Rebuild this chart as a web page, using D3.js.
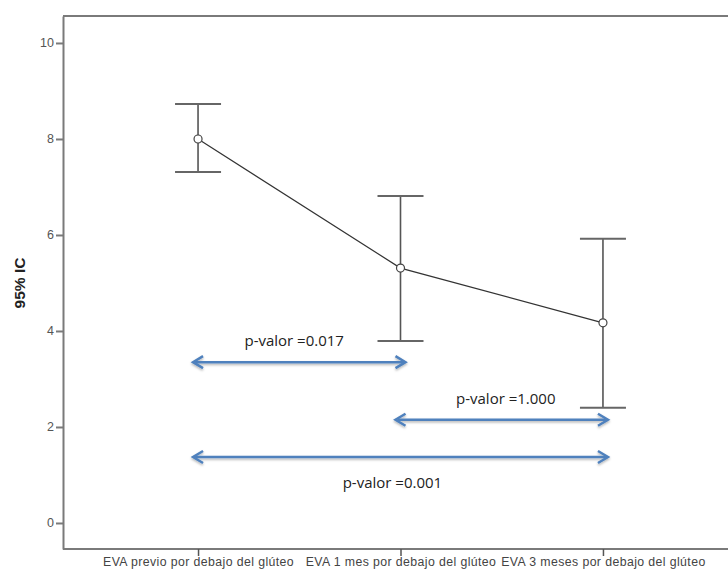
<!DOCTYPE html>
<html><head><meta charset="utf-8">
<script src="https://cdn.jsdelivr.net/npm/d3@7"></script>
<style>body{margin:0;background:#fff}svg{display:block}</style>
</head><body>
<svg id="c" width="728" height="571"></svg>
<script>
const categories = ["EVA previo por debajo del glúteo","EVA 1 mes por debajo del glúteo","EVA 3 meses por debajo del glúteo"];
const means = [8.0, 5.31, 4.17];
const ciLow = [7.31, 3.79, 2.40];
const ciHigh = [8.73, 6.81, 5.92];
const yTicks = [0, 2, 4, 6, 8, 10];
const comparisons = [
  {from: 0, to: 1, y: 3.35, label: "p-valor =0.017", labelY: 3.77, labelX: 0.475},
  {from: 1, to: 2, y: 2.15, label: "p-valor =1.000", labelY: 2.56, labelX: 0.52},
  {from: 0, to: 2, y: 1.375, label: "p-valor =0.001", labelY: 0.81, labelX: 0.48}
];

(function () {
const svg = d3.select("#c");
const mLeft = 63, mTop = 16, mRight = 738, mBottom = 549;
const x = d3.scalePoint().domain(categories).range([mLeft, mRight]).padding(0.667);
const y = d3.scaleLinear().domain([-0.542, 10.562]).range([mBottom, mTop]);
const axisColor = "#7a7a7a";

svg.append("line").attr("x1", mLeft).attr("x2", 728).attr("y1", mTop).attr("y2", mTop)
  .attr("stroke", axisColor).attr("stroke-width", 2);

const yAxis = svg.append("g").attr("transform", `translate(${mLeft},0)`)
  .call(d3.axisLeft(y).tickValues(yTicks).tickSize(7).tickSizeOuter(0).tickFormat(d3.format("d")));
yAxis.select(".domain").attr("stroke", axisColor).attr("stroke-width", 2);
yAxis.selectAll(".tick line").attr("stroke", axisColor).attr("stroke-width", 2);
yAxis.selectAll(".tick text").attr("fill", "#555").attr("font-family", "Liberation Sans, Arial, sans-serif").attr("font-size", 12.5).attr("x", -9);

const xAxis = svg.append("g").attr("transform", `translate(0,${mBottom})`)
  .call(d3.axisBottom(x).tickSize(6).tickSizeOuter(0));
xAxis.select(".domain").attr("stroke", axisColor).attr("stroke-width", 2).attr("d", `M${mLeft},0H728`);
xAxis.selectAll(".tick line").attr("stroke", "#555").attr("stroke-width", 1.5).attr("y1", 0).attr("y2", 7);
xAxis.selectAll(".tick text").attr("fill", "#444").attr("font-family", "Liberation Sans, Arial, sans-serif")
  .attr("font-size", 12.3).attr("letter-spacing", "0.4px").attr("dy", "0.9em").attr("y", 6);

svg.append("text").attr("transform", `translate(25,${y(5)}) rotate(-90)`)
  .attr("text-anchor", "middle").attr("font-family", "Liberation Sans, Arial, sans-serif")
  .attr("font-weight", "bold").attr("font-size", 15.5).attr("fill", "#222").text("95% IC");

const g = svg.append("g");
categories.forEach((c, i) => {
  const cx = x(c);
  g.append("line").attr("x1", cx).attr("x2", cx).attr("y1", y(ciLow[i])).attr("y2", y(ciHigh[i]))
    .attr("stroke", "#555").attr("stroke-width", 1.6);
  [ciLow[i], ciHigh[i]].forEach(v => g.append("line").attr("x1", cx - 23).attr("x2", cx + 23)
    .attr("y1", y(v)).attr("y2", y(v)).attr("stroke", "#666").attr("stroke-width", 2));
});
const line = d3.line().x((d, i) => x(categories[i])).y(d => y(d));
g.append("path").datum(means).attr("d", line).attr("fill", "none").attr("stroke", "#333").attr("stroke-width", 1.2);
g.selectAll("circle").data(means).join("circle")
  .attr("cx", (d, i) => x(categories[i])).attr("cy", d => y(d)).attr("r", 4)
  .attr("fill", "#fff").attr("stroke", "#444").attr("stroke-width", 1.2);

const defs = svg.append("defs");
const filt = defs.append("filter").attr("id", "sh").attr("x", "-10%").attr("y", "-200%").attr("width", "120%").attr("height", "500%");
filt.append("feDropShadow").attr("dx", 0).attr("dy", 1.5).attr("stdDeviation", 1).attr("flood-color", "#000").attr("flood-opacity", 0.3);
const blue = "#4f81bd";
const ag = svg.append("g").attr("filter", "url(#sh)");
comparisons.forEach(cmp => {
  const x1 = x(categories[cmp.from]) - 5, x2 = x(categories[cmp.to]) + 5, yy = y(cmp.y);
  ag.append("line").attr("x1", x1 + 2).attr("x2", x2 - 2).attr("y1", yy).attr("y2", yy)
    .attr("stroke", blue).attr("stroke-width", 2.5);
  ag.append("path").attr("d", `M${x1 + 10},${yy - 6}L${x1},${yy}L${x1 + 10},${yy + 6}`)
    .attr("fill", "none").attr("stroke", blue).attr("stroke-width", 2.5);
  ag.append("path").attr("d", `M${x2 - 10},${yy - 6}L${x2},${yy}L${x2 - 10},${yy + 6}`)
    .attr("fill", "none").attr("stroke", blue).attr("stroke-width", 2.5);
  const lx = x(categories[cmp.from]) + (x(categories[cmp.to]) - x(categories[cmp.from])) * cmp.labelX;
  svg.append("text").attr("x", lx).attr("y", y(cmp.labelY)).attr("text-anchor", "middle")
    .attr("dominant-baseline", "middle")
    .attr("font-family", "Open Sans, Liberation Sans, sans-serif").attr("font-size", 15).attr("fill", "#222").text(cmp.label);
});
})();
</script>
</body></html>
